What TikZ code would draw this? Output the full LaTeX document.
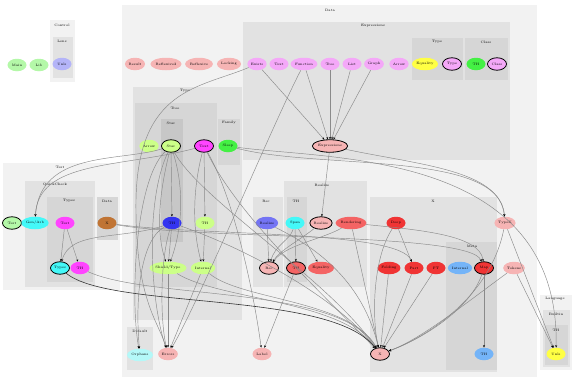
\documentclass[tikz,border=0pt]{standalone}
\usetikzlibrary{shapes.geometric,arrows.meta}
\definecolor{cA}{HTML}{F2F2F2}
\definecolor{cB}{HTML}{E2E2E2}
\definecolor{cC}{HTML}{D6D6D6}
\definecolor{salmon}{HTML}{F6B4B4}
\definecolor{violet}{HTML}{F4A8F8}
\definecolor{lgreen}{HTML}{B4F8A8}
\definecolor{ygreen}{HTML}{CCFF88}
\definecolor{green}{HTML}{44F044}
\definecolor{magenta}{HTML}{FF44FF}
\definecolor{cyan}{HTML}{44F8F8}
\definecolor{lcyan}{HTML}{B4F8F8}
\definecolor{blue}{HTML}{3434F0}
\definecolor{pblue}{HTML}{7474F4}
\definecolor{red}{HTML}{F03434}
\definecolor{lred}{HTML}{F46464}
\definecolor{lblue}{HTML}{74B4F8}
\definecolor{yellow}{HTML}{FFFF44}
\definecolor{brown}{HTML}{C07434}
\definecolor{lav}{HTML}{B4B4F8}
\definecolor{edgec}{HTML}{8A8A8A}
\begin{document}
\begin{tikzpicture}[x=1pt,y=-1pt,
  nd/.style={ellipse, fill=#1, minimum width=19pt, minimum height=12.5pt, inner sep=0.6pt, font=\fontsize{3.4}{4}\selectfont},
  bd/.style={draw=black, line width=0.8pt},
  ct/.style={font=\fontsize{3.4}{4}\selectfont, inner sep=0pt},
  e/.style={draw=edgec, line width=0.45pt, -{Stealth[length=2.4pt,width=2pt,color=black]}},
  ek/.style={draw=black!80, line width=0.6pt, -{Stealth[length=2.4pt,width=2pt]}}]
\useasboundingbox (0,0) rectangle (574,383);
\fill[white] (0,0) rectangle (574,383);
% ---------- clusters
\fill[cA] (50,20) rectangle (75,82); \node[ct] at (62,25) {Control};
\fill[cB] (53,37) rectangle (73,78); \node[ct] at (62,41) {Lens};
\fill[cA] (122,5) rectangle (537,377); \node[ct] at (330,10) {Data};
\fill[cB] (243,22) rectangle (510,160); \node[ct] at (373,26) {Expressions};
\fill[cC] (412,38) rectangle (463,80); \node[ct] at (437,42) {Type};
\fill[cC] (465,38) rectangle (508,80); \node[ct] at (486,42) {Class};
\fill[cB] (133,87) rectangle (242,320); \node[ct] at (185,91) {Type};
\fill[cC] (135,103) rectangle (217,287); \node[ct] at (175,108) {Tree};
\fill[black!22] (161,119) rectangle (183,242); \node[ct] at (171,123) {Star};
\fill[cC] (218,119) rectangle (240,165); \node[ct] at (229,123) {Family};
\fill[cB] (127,327) rectangle (153,370); \node[ct] at (140,331) {Default};
\fill[cB] (253,197) rectangle (283,287); \node[ct] at (266,201) {Rec};
\fill[cB] (284,181) rectangle (367,287); \node[ct] at (322,185) {Realize};
\fill[cC] (287,197) rectangle (307,282); \node[ct] at (296,201) {TH};
\fill[cB] (370,197) rectangle (497,372); \node[ct] at (433,201) {X};
\fill[cC] (446,242) rectangle (497,370); \node[ct] at (472,246) {Meta};
\fill[cA] (540,295) rectangle (572,370); \node[ct] at (555,299) {Language};
\fill[cB] (543,310) rectangle (570,367); \node[ct] at (556,314) {Builtin};
\fill[cC] (545,325) rectangle (568,365); \node[ct] at (556,330) {TH};
\fill[cA] (3,163) rectangle (120,290); \node[ct] at (60,167) {Test};
\fill[cB] (25,181) rectangle (95,287); \node[ct] at (55,185) {QuickCheck};
\fill[cC] (47,197) rectangle (93,282); \node[ct] at (69,201) {Types};
\fill[cC] (97,197) rectangle (118,240); \node[ct] at (107,201) {Data};
% ---------- nodes
\node[nd=lgreen] (main) at (17,65) {Main};
\node[nd=lgreen] (lib) at (39,65) {Lib};
\node[nd=lav] (unlsc) at (62,64) {Unls};
\node[nd=salmon] (result) at (135,64) {Result};
\node[nd=salmon] (refl2) at (166,64) {Reflexive2};
\node[nd=salmon] (refl) at (199,64) {Reflexive};
\node[nd=salmon] (locking) at (229,64) {Locking};
\node[nd=violet] (exists) at (257,64) {Exists};
\node[nd=violet] (etext) at (279,64) {Text};
\node[nd=violet] (function) at (304,64) {Function};
\node[nd=violet] (tree) at (330,64) {Tree};
\node[nd=violet] (list) at (352,64) {List};
\node[nd=violet] (graph) at (374,64) {Graph};
\node[nd=violet] (arrow) at (399,64) {Arrow};
\node[nd=yellow] (equality) at (425,64) {Equality};
\node[nd=violet,bd] (typeE) at (452,64) {Type};
\node[nd=green] (thc) at (476,64) {TH};
\node[nd=violet,bd] (class) at (497,64) {Class};
\node[nd=salmon,bd,minimum width=35pt] (expr) at (330,146) {Expressions};
\node[nd=ygreen] (tarrow) at (149,146) {Arrow};
\node[nd=ygreen,bd] (star) at (171,146) {Star};
\node[nd=magenta,bd] (ttext) at (204,146) {Text};
\node[nd=green] (sleep) at (228,146) {Sleep};
\node[nd=blue] (blue) at (172,223) {TH};
\node[nd=ygreen] (th1) at (205,223) {TH};
\node[nd=ygreen] (shield) at (168,268) {Shield/Type};
\node[nd=ygreen] (internal) at (203,268) {Internal};
\node[nd=lcyan] (orphans) at (140,355) {Orphans};
\node[nd=salmon] (errors) at (168,354) {Errors};
\node[nd=salmon] (label) at (262,354) {Label};
\node[nd=pblue] (realizeB) at (267,223) {Realize};
\node[nd=salmon,bd] (rec) at (269,268) {Rec};
\node[nd=cyan] (span) at (295,223) {Span};
\node[nd=salmon,bd] (realize) at (321,223) {Realize};
\node[nd=lred] (rendering) at (351,223) {Rendering};
\node[nd=lred,bd] (thr) at (296,268) {TH};
\node[nd=lred] (equality2) at (321,268) {Equality};
\node[nd=red] (deep) at (396,223) {Deep};
\node[nd=red] (folding) at (389,268) {Folding};
\node[nd=red] (part) at (414,268) {Part};
\node[nd=red] (ft) at (436,268) {FT};
\node[nd=lblue] (internalM) at (460,268) {Internal};
\node[nd=red,bd] (map) at (484,268) {Map};
\node[nd=lblue] (thm) at (484,354) {TH};
\node[nd=salmon,bd] (x) at (380,354) {X};
\node[nd=salmon] (typek) at (505,223) {TypeK};
\node[nd=salmon] (tokens) at (514,268) {Tokens};
\node[nd=yellow] (unls) at (556,354) {Unls};
\node[nd=lgreen,bd] (testn) at (12,223) {Test};
\node[nd=cyan,minimum width=17pt] (gen) at (35,223) {Gen/Arb};
\node[nd=magenta] (test2) at (65,223) {Test};
\node[nd=cyan,bd] (types) at (60,268) {Types};
\node[nd=magenta] (th2) at (80,268) {TH};
\node[nd=brown] (xb) at (107,223) {X};
% ---------- edges
\draw[e] (exists) -- (expr);
\draw[e] (function) -- (expr);
\draw[e] (tree) -- (expr);
\draw[e] (list) -- (expr);
\draw[e] (graph) -- (expr);
\draw[e] (exists) .. controls (200,88) and (138,88) .. (136,200) .. controls (135,300) and (158,320) .. (errors);
\draw[e] (function) .. controls (270,130) and (200,300) .. (errors);
\draw[e] (expr) -- (realize);
\draw[e] (expr) .. controls (420,165) and (500,170) .. (typek);
\draw[e] (star) -- (blue);
\draw[e] (star) .. controls (160,190) and (155,230) .. (shield);
\draw[e] (star) .. controls (185,190) and (182,230) .. (shield);
\draw[e] (star) .. controls (145,200) and (150,300) .. (errors);
\draw[e] (star) .. controls (135,180) and (130,300) .. (orphans);
\draw[e] (star) .. controls (120,162) and (40,150) .. (gen);
\draw[e] (ttext) .. controls (120,168) and (38,160) .. (gen);
\draw[e] (star) .. controls (200,200) and (330,280) .. (x);
\draw[e] (ttext) -- (th1);
\draw[e] (ttext) .. controls (190,200) and (195,240) .. (internal);
\draw[e] (ttext) .. controls (240,220) and (330,300) .. (x);
\draw[e] (ttext) .. controls (235,200) and (255,300) .. (label);
\draw[e] (sleep) .. controls (320,170) and (500,150) .. (typek);
\draw[e] (sleep) .. controls (330,160) and (560,150) .. (unls);
\draw[e] (blue) -- (shield);
\draw[e] (blue) .. controls (140,240) and (135,300) .. (orphans);
\draw[e] (blue) .. controls (160,260) and (160,320) .. (errors);
\draw[e] (blue) .. controls (250,250) and (340,300) .. (x);
\draw[e] (blue) .. controls (120,240) and (70,230) .. (types);
\draw[e] (th1) -- (internal);
\draw[e] (shield) -- (errors);
\draw[e] (shield) .. controls (220,300) and (340,300) .. (x);
\draw[e] (internal) -- (errors);
\draw[e] (internal) .. controls (240,300) and (350,300) .. (x);
\draw[e] (test2) -- (types);
\draw[e] (test2) -- (th2);
\draw[ek] (types) .. controls (110,310) and (330,290) .. (x);
\draw[e] (th2) .. controls (150,300) and (340,285) .. (x);
\draw[e] (realizeB) -- (rec);
\draw[e] (realizeB) .. controls (300,240) and (360,270) .. (x);
\draw[e] (span) .. controls (290,240) and (275,245) .. (rec);
\draw[e] (span) -- (thr);
\draw[e] (span) -- (equality2);
\draw[e] (realize) .. controls (300,240) and (280,250) .. (rec);
\draw[e] (rendering) .. controls (320,240) and (285,245) .. (rec);
\draw[e] (rendering) -- (x);
\draw[e] (rendering) .. controls (420,230) and (480,235) .. (map);
\draw[e] (deep) -- (part);
\draw[e] (deep) .. controls (372,260) and (372,320) .. (x);
\draw[e] (folding) -- (x);
\draw[e] (part) -- (x);
\draw[e] (ft) -- (x);
\draw[e] (map) .. controls (470,310) and (420,340) .. (x);
\draw[e] (map) -- (thm);
\draw[e] (typek) .. controls (490,300) and (420,340) .. (x);
\draw[e] (typek) -- (unls);
\draw[e] (tokens) .. controls (470,300) and (420,340) .. (x);
\draw[e] (tokens) -- (unls);
\draw[e] (thr) -- (label);
\draw[e] (xb) .. controls (200,240) and (470,232) .. (map);
\draw[e] (xb) .. controls (200,236) and (400,230) .. (part);
\end{tikzpicture}
\end{document}
